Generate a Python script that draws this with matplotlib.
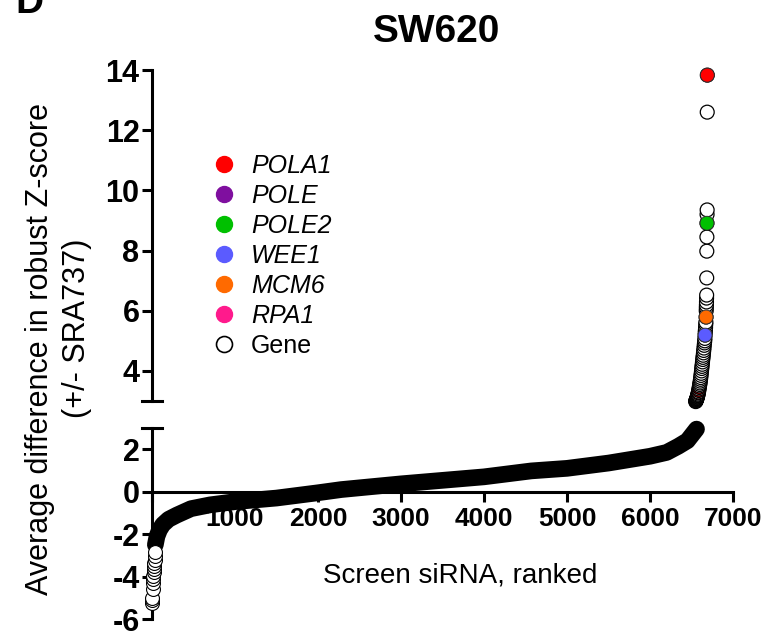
import matplotlib
matplotlib.use("Agg")
import matplotlib.pyplot as plt
from matplotlib.lines import Line2D

plt.rcParams['font.family'] = ['Liberation Sans', 'DejaVu Sans']
plt.rcParams['axes.unicode_minus'] = False

# ranked screen
# dense middle part of the ranking (drawn as a thick band)
band_rank = [40, 60, 90, 130, 200, 300, 470, 700, 1000, 1500, 2000, 2280,
             3000, 4000, 4570, 5000, 5500, 6000, 6200, 6340, 6450, 6530, 6560]
band_val = [-2.5, -2.1, -1.8, -1.55, -1.3, -1.1, -0.8, -0.62, -0.47, -0.3,
            -0.05, 0.1, 0.37, 0.7, 0.98, 1.1, 1.35, 1.67, 1.85, 2.14, 2.4,
            2.8, 2.95]

# lowest ranked siRNAs (open circles at the left)
low_rank = [1, 3, 5, 8, 11, 14, 17, 20, 23, 26, 29, 32, 35, 38]
low_val = [-5.25, -5.1, -5.0, -4.6, -4.3, -4.1, -3.95, -3.8, -3.65, -3.5,
           -3.35, -3.2, -3.05, -2.85]

# top hits (upper panel)
top_rank = [6550, 6552, 6554, 6556, 6558, 6560, 6562, 6564, 6566, 6568,
            6570, 6572, 6574, 6576, 6578, 6581,
            6584, 6587, 6590, 6593, 6596, 6599, 6602, 6605, 6608, 6611,
            6614, 6617, 6620, 6623, 6626, 6629, 6632, 6635, 6638, 6641,
            6644, 6647, 6650, 6653, 6656, 6659, 6661, 6663, 6665, 6667,
            6669, 6671, 6673, 6675, 6677, 6678, 6679, 6680, 6681, 6682,
            6683, 6684, 6685, 6686, 6687, 6688, 6689, 6690]
top_val = [2.98, 3.0, 3.01, 3.02, 3.04, 3.05, 3.07, 3.08, 3.1, 3.12,
           3.14, 3.16, 3.18, 3.2, 3.23, 3.27,
           3.3, 3.35, 3.4, 3.45, 3.5, 3.55, 3.6, 3.66, 3.72, 3.78,
           3.85, 3.92, 4.0, 4.08, 4.15, 4.22, 4.3, 4.38, 4.45, 4.52,
           4.6, 4.68, 4.76, 4.85, 4.93, 5.0, 5.08, 5.19, 5.28, 5.35,
           5.45, 5.55, 5.62, 5.79, 6.0, 6.1, 6.19, 6.29, 6.42, 6.52,
           7.09, 7.98, 8.45, 8.91, 9.2, 9.35, 12.6, 13.83]
top_gene = ['Gene'] * 15 + ['POLA1', 'Gene', 'POLA1', 'Gene', 'POLA1'] + \
           ['Gene'] * 23 + ['WEE1'] + ['Gene'] * 5 + ['MCM6'] + \
           ['Gene'] * 9 + ['POLE2', 'Gene', 'Gene', 'Gene', 'POLA1']

genes = ['POLA1', 'POLE', 'POLE2', 'WEE1', 'MCM6', 'RPA1']
gene_colors = {'POLA1': '#ff0000', 'POLE': '#7f0f9f', 'POLE2': '#00c000',
               'WEE1': '#5b5bff', 'MCM6': '#ff6a00', 'RPA1': '#ff1a8c',
               'Gene': 'white'}

x_ticks = [0, 1000, 2000, 3000, 4000, 5000, 6000, 7000]
top_ticks = [4, 6, 8, 10, 12, 14]
bot_ticks = [-6, -4, -2, 0, 2]


def main():
    fig = plt.figure(figsize=(7.8, 6.36), dpi=100)
    ax_top = fig.add_axes([0.1949, 0.3695, 0.7449, 0.5204])
    ax_bot = fig.add_axes([0.1949, 0.0267, 0.7449, 0.3003])

    ms = 10
    # dense band
    ax_bot.plot(band_rank, band_val, color='black', lw=12,
                solid_capstyle='round', solid_joinstyle='round',
                clip_on=False, zorder=3)
    ax_bot.plot(low_rank, low_val, 'o', ms=ms, mfc='white', mec='black',
                mew=0.8, clip_on=False, zorder=4)

    face = [gene_colors[g] for g in top_gene]
    ax_top.scatter(top_rank, top_val, s=ms ** 2, c=face, edgecolors='black',
                   linewidths=0.9, clip_on=False, zorder=4)
    # highlighted hits above 5 sit on top of the open circles
    hi = [i for i, g in enumerate(top_gene) if g != 'Gene' and top_val[i] > 5]
    ax_top.scatter([top_rank[i] for i in hi], [top_val[i] for i in hi],
                   s=ms ** 2, c=[face[i] for i in hi], edgecolors='#333333',
                   linewidths=0.6, clip_on=False, zorder=5)

    for ax in (ax_top, ax_bot):
        ax.set_xlim(0, 7000)
        ax.spines['top'].set_visible(False)
        ax.spines['right'].set_visible(False)
        ax.spines['left'].set_linewidth(2.2)
        ax.tick_params(axis='y', direction='out', length=7, width=2.2,
                       labelsize=22, pad=2)

    ax_top.set_ylim(3, 14)
    ax_top.set_yticks(top_ticks)
    ax_top.spines['bottom'].set_visible(False)
    ax_top.set_xticks([])

    ax_bot.set_ylim(-6, 3)
    ax_bot.set_yticks(bot_ticks)
    ax_bot.spines['bottom'].set_position(('data', 0))
    ax_bot.spines['bottom'].set_linewidth(2.2)
    ax_bot.set_xticks(x_ticks)
    ax_bot.set_xticklabels([''] + [str(t) for t in x_ticks[1:]])
    ax_bot.tick_params(axis='x', direction='out', length=7, width=2.2,
                       labelsize=19, pad=4)
    ax_bot.spines['bottom'].set_zorder(2)

    for ax in (ax_top, ax_bot):
        for lab in ax.get_yticklabels() + ax.get_xticklabels():
            lab.set_fontweight('bold')

    # broken axis caps
    ax_top.plot([-0.018, 0.018], [0, 0], transform=ax_top.transAxes,
                color='black', lw=2.2, clip_on=False)
    ax_bot.plot([-0.018, 0.018], [1, 1], transform=ax_bot.transAxes,
                color='black', lw=2.2, clip_on=False)

    ax_bot.set_xlabel('Screen siRNA, ranked', fontsize=20, va='center')
    ax_bot.xaxis.set_label_coords(0.53, 0.23)

    fig.text(0.56, 1 - 32 / 636, 'SW620', fontsize=28, fontweight='bold',
             ha='center', va='center')
    fig.text(15 / 780, 1 - 13 / 636, 'D', fontsize=28, fontweight='bold',
             ha='left', va='baseline')

    fig.text(40 / 780, 1 - 349 / 636, 'Average difference in robust Z-score',
             fontsize=22, rotation=90, ha='center', va='center')
    fig.text(77 / 780, 1 - 328 / 636, '(+/- SRA737)',
             fontsize=22, rotation=90, ha='center', va='center')

    # legend
    handles = [Line2D([], [], marker='o', ls='none', ms=11.5,
                      mfc=gene_colors[g], mec=gene_colors[g]) for g in genes]
    handles.append(Line2D([], [], marker='o', ls='none', ms=11.5,
                          mfc='white', mec='black', mew=1.2))
    leg = ax_top.legend(handles, genes + ['Gene'], loc='upper left',
                        bbox_to_anchor=(211 / 780, 1 - 154 / 636),
                        bbox_transform=fig.transFigure, frameon=False,
                        fontsize=18, handlelength=1.0, handletextpad=0.6,
                        labelspacing=0.24, borderpad=0, borderaxespad=0)
    for t in leg.get_texts()[:6]:
        t.set_fontstyle('italic')

    fig.savefig('out.png', dpi=100)


if __name__ == "__main__":
    main()
